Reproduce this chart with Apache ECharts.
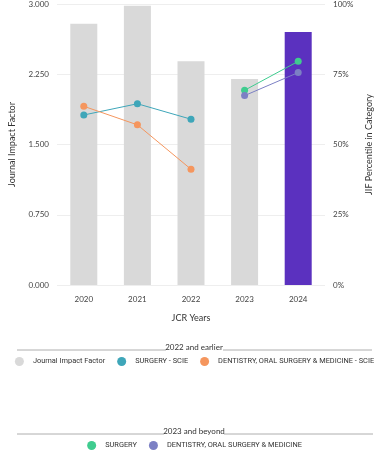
<!DOCTYPE html>
<html><head><meta charset="utf-8">
<script src="https://cdn.jsdelivr.net/npm/echarts@6/dist/echarts.min.js"></script>
<style>html,body{margin:0;padding:0;background:#fff}#c{width:389px;height:451px}</style>
</head><body><div id="c"></div>
<script>
const years = ['2020','2021','2022','2023','2024'];
const jif = [2.79, 2.98, 2.39, 2.20, 2.70];
const surgeryScie = [60.5, 64.5, 59.0, null, null];
const dentistryScie = [63.6, 57.0, 41.2, null, null];
const surgery = [null, null, null, 69.3, 79.6];
const dentistry = [null, null, null, 67.4, 75.6];
const leftTicks = ['0.000','0.750','1.500','2.250','3.000'];

const FONT = 'Lato';
const LFONT = 'Roboto';
const chart = echarts.init(document.getElementById('c'));
const lineSeries = (name, data, color) => ({
  name, type: 'line', yAxisIndex: 1, data, symbol: 'circle', symbolSize: 7,
  itemStyle: {color}, lineStyle: {color, width: 1}, connectNulls: false
});
const legendText = {fontSize: 7.4, color: '#333', fontFamily: LFONT, padding: [0, 0, 0, 4]};
chart.setOption({
  animation: false,
  textStyle: {fontFamily: FONT},
  grid: {left: 52, right: 64, top: 4, bottom: 166},
  xAxis: {
    type: 'category', data: years,
    name: 'JCR Years', nameLocation: 'middle', nameGap: 29,
    nameTextStyle: {fontSize: 9, color: '#333'},
    axisLine: {show: false}, axisTick: {show: false},
    axisLabel: {fontSize: 8, color: '#444', margin: 10}
  },
  yAxis: [{
    type: 'value', min: 0, max: 3, interval: 0.75,
    name: 'Journal Impact Factor', nameLocation: 'middle', nameGap: 40,
    nameTextStyle: {fontSize: 9, color: '#333'},
    axisLabel: {fontSize: 8, color: '#444', formatter: v => leftTicks[Math.round(v/0.75)]},
    splitLine: {lineStyle: {color: '#eeeeee'}},
    axisLine: {show: false}, axisTick: {show: false}
  }, {
    type: 'value', min: 0, max: 100, interval: 25,
    name: 'JIF Percentile in Category', nameLocation: 'middle', nameGap: 37,
    nameTextStyle: {fontSize: 9, color: '#333'},
    axisLabel: {fontSize: 8, color: '#444', formatter: '{value}%'},
    splitLine: {show: false}, axisLine: {show: false}, axisTick: {show: false}
  }],
  legend: [{
    top: 357, left: 'center', width: 385, padding: 0, icon: 'circle', itemWidth: 9, itemHeight: 9, itemGap: 12,
    textStyle: legendText,
    data: ['Journal Impact Factor', 'SURGERY - SCIE', 'DENTISTRY, ORAL SURGERY & MEDICINE - SCIE']
  }, {
    top: 441, left: 'center', width: 385, padding: 0, icon: 'circle', itemWidth: 9, itemHeight: 9, itemGap: 12,
    textStyle: legendText,
    data: ['SURGERY', 'DENTISTRY, ORAL SURGERY & MEDICINE']
  }],
  graphic: [
    {type: 'line', shape: {x1: 17, y1: 350, x2: 166, y2: 350}, style: {stroke: '#999', lineWidth: 0.8}},
    {type: 'text', x: 194, y: 347, style: {text: '2022 and earlier', fontSize: 8, fill: '#333', align: 'center', verticalAlign: 'middle', fontFamily: FONT}},
    {type: 'line', shape: {x1: 223, y1: 350, x2: 372, y2: 350}, style: {stroke: '#999', lineWidth: 0.8}},
    {type: 'line', shape: {x1: 17, y1: 434, x2: 164, y2: 434}, style: {stroke: '#999', lineWidth: 0.8}},
    {type: 'text', x: 194, y: 431, style: {text: '2023 and beyond', fontSize: 8, fill: '#333', align: 'center', verticalAlign: 'middle', fontFamily: FONT}},
    {type: 'line', shape: {x1: 224, y1: 434, x2: 373, y2: 434}, style: {stroke: '#999', lineWidth: 0.8}}
  ],
  series: [{
    name: 'Journal Impact Factor', type: 'bar', barWidth: 27,
    itemStyle: {color: '#d9d9d9'},
    data: jif.map((v, i) => i === jif.length - 1 ? {value: v, itemStyle: {color: '#5b31bf'}} : v)
  },
    lineSeries('SURGERY - SCIE', surgeryScie, '#3ea6b9'),
    lineSeries('DENTISTRY, ORAL SURGERY & MEDICINE - SCIE', dentistryScie, '#f5965e'),
    lineSeries('SURGERY', surgery, '#3fcc8f'),
    lineSeries('DENTISTRY, ORAL SURGERY & MEDICINE', dentistry, '#7c80c4')
  ]
});
</script></body></html>
